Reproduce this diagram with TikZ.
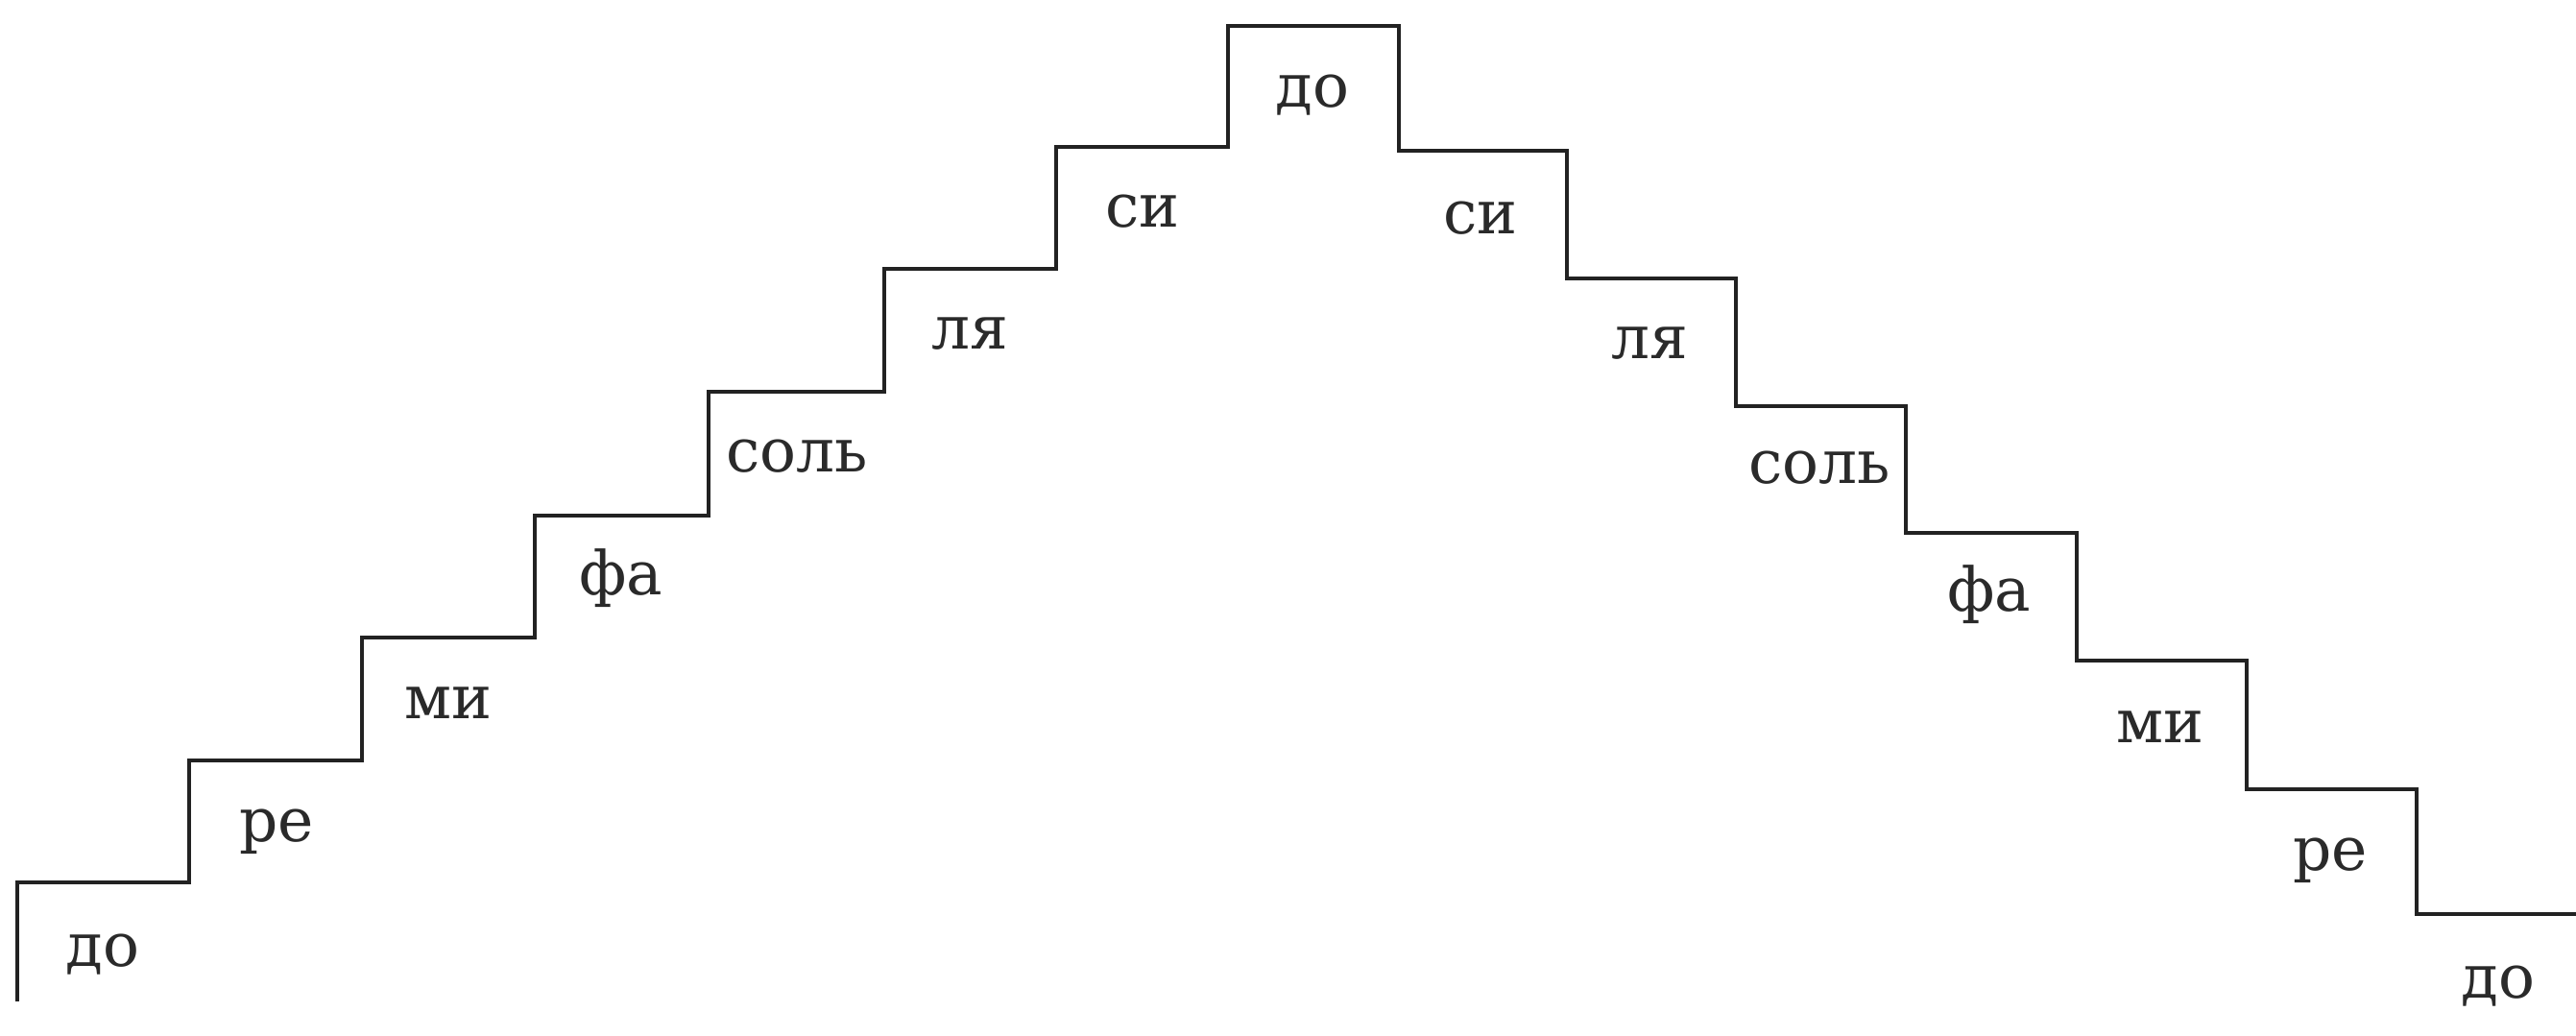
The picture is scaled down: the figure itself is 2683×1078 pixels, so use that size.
\documentclass[tikz,border=0pt]{standalone}
\usepackage{fontspec}
\setmainfont{DejaVu Serif}
\definecolor{ink}{HTML}{222222}
\definecolor{txt}{HTML}{2A2A2A}
\tikzset{
  stair/.style={draw=ink, line width=2.2pt, line join=miter, line cap=butt},
  note/.style={anchor=base, inner sep=0pt, text=txt, font=\fontsize{31.5}{36}\selectfont}
}
\begin{document}
\begin{tikzpicture}[x=0.5pt, y=-0.5pt]
\useasboundingbox (0,0) rectangle (2683,1078);
\fill[white] (0,0) rectangle (2683,1078);
\path[stair] (18,1043) -- (18,919) -- (197,919) -- (197,792) -- (377,792) -- (377,664)
  -- (557,664) -- (557,537) -- (738,537) -- (738,408) -- (921,408) -- (921,280)
  -- (1100,280) -- (1100,153) -- (1279,153) -- (1279,27) -- (1457,27) -- (1457,157)
  -- (1632,157) -- (1632,290) -- (1808,290) -- (1808,423) -- (1985,423) -- (1985,555)
  -- (2163,555) -- (2163,688) -- (2340,688) -- (2340,822) -- (2517,822) -- (2517,952)
  -- (2683,952);
% left side
\node[note] (l1) at (107,1006.5) {до};
\node[note] (l2) at (288,876.5) {ре};
\node[note] (l3) at (467,748.5) {ми};
\node[note] (l4) at (647,619.5) {фа};
\node[note] (l5) at (830,491.5) {соль};
\node[note] (l6) at (1010,363.5) {ля};
\node[note] (l7) at (1190,236.5) {си};
\node[note] (top) at (1367,111.5) {до};
% right side
\node[note] (r7) at (1542,243.5) {си};
\node[note] (r6) at (1718,373.5) {ля};
\node[note] (r5) at (1895,503.5) {соль};
\node[note] (r4) at (2072,636.5) {фа};
\node[note] (r3) at (2250,773.5) {ми};
\node[note] (r2) at (2427,906.5) {ре};
\node[note] (r1) at (2602,1039.5) {до};
\end{tikzpicture}
\end{document}
